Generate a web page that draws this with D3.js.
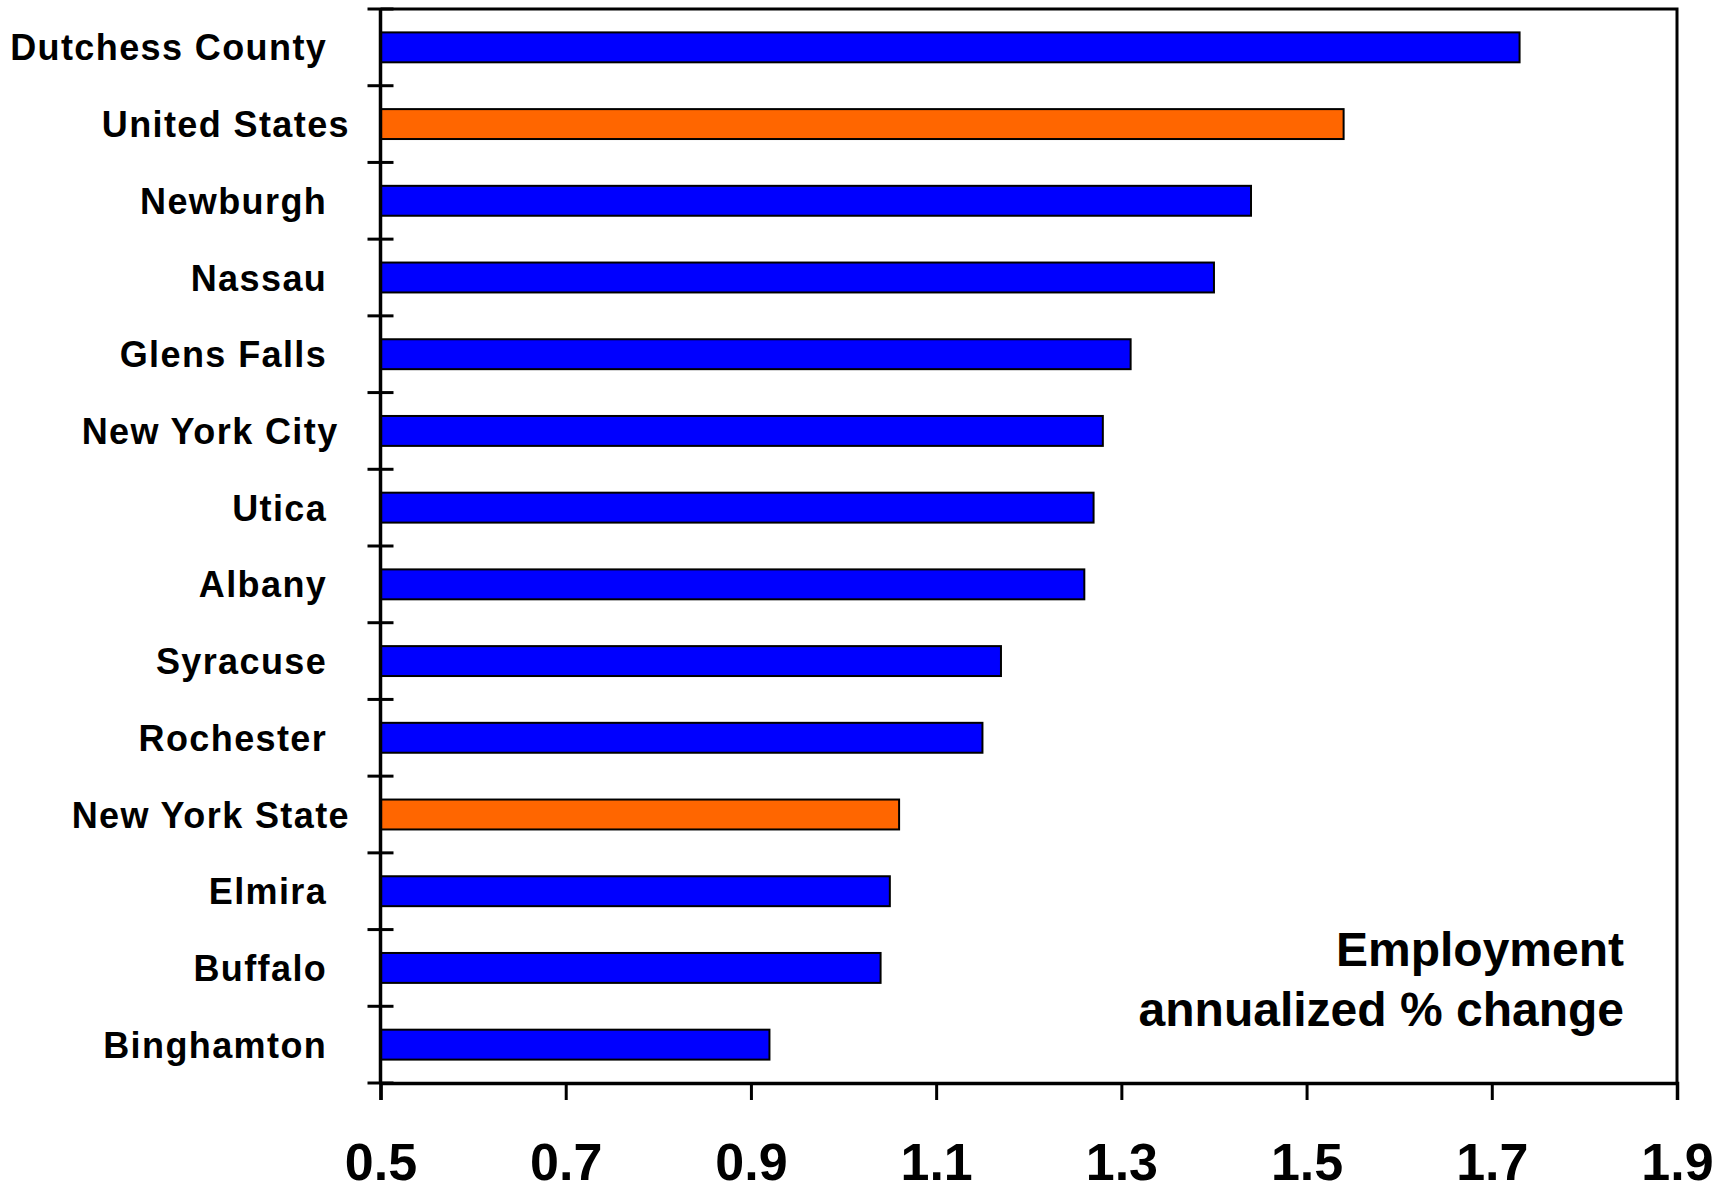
<!DOCTYPE html>
<html>
<head>
<meta charset="utf-8">
<script src="https://cdn.jsdelivr.net/npm/d3@7"></script>
<style>
  body { margin: 0; background: #fff; }
  svg { display: block; }
  text { font-family: "Liberation Sans", Arial, sans-serif; font-weight: bold; fill: #000; }
</style>
</head>
<body>
<div id="chart"></div>
<script>
// ---------------- data ----------------
const regions = [
  'Dutchess County', 'United States', 'Newburgh', 'Nassau', 'Glens Falls',
  'New York City', 'Utica', 'Albany', 'Syracuse', 'Rochester',
  'New York State', 'Elmira', 'Buffalo', 'Binghamton'
];
// trailing spaces as they appear in the original labels
const labelText = [
  'Dutchess County  ', 'United States', 'Newburgh  ', 'Nassau  ', 'Glens Falls  ',
  'New York City ', 'Utica  ', 'Albany  ', 'Syracuse  ', 'Rochester  ',
  'New York State', 'Elmira  ', 'Buffalo  ', 'Binghamton  '
];
const growth = [1.73, 1.54, 1.44, 1.40, 1.31, 1.28, 1.27, 1.26, 1.17, 1.15, 1.06, 1.05, 1.04, 0.92];
const benchmarks = ['United States', 'New York State'];
const xTicks = [0.5, 0.7, 0.9, 1.1, 1.3, 1.5, 1.7, 1.9];
const note = ['Employment', 'annualized % change'];

// ---------------- layout ----------------
const W = 1728, H = 1185;
const m = { left: 380.5, right: 1677, top: 9, bottom: 1083 };

const svg = d3.select('#chart').append('svg')
  .attr('width', W).attr('height', H);

const x = d3.scaleLinear().domain([0.5, 1.9]).range([m.left, m.right]);
const y = d3.scaleBand().domain(regions).range([m.top, m.bottom])
  .paddingInner(0.61).paddingOuter(0.305);
const band = d3.scaleBand().domain(regions).range([m.top, m.bottom]);

// bars
svg.append('g').selectAll('rect')
  .data(regions)
  .enter().append('rect')
  .attr('x', x(0.5))
  .attr('y', d => y(d))
  .attr('width', (d, i) => x(growth[i]) - x(0.5))
  .attr('height', y.bandwidth())
  .attr('fill', d => benchmarks.includes(d) ? '#ff6600' : '#0000ff')
  .attr('stroke', '#000')
  .attr('stroke-width', 2);

// frame (top + right)
svg.append('path')
  .attr('d', `M${m.left},${m.top}H${m.right}V${m.bottom}`)
  .attr('fill', 'none').attr('stroke', '#000').attr('stroke-width', 3);

// y axis: ticks on band boundaries crossing the axis line
const yBounds = regions.map(d => band(d)).concat([m.bottom]);
svg.append('g').selectAll('line')
  .data(yBounds)
  .enter().append('line')
  .attr('x1', m.left - 13).attr('x2', m.left + 13)
  .attr('y1', d => d).attr('y2', d => d)
  .attr('stroke', '#000').attr('stroke-width', 3);
svg.append('line')
  .attr('x1', m.left).attr('x2', m.left).attr('y1', m.top).attr('y2', m.bottom)
  .attr('stroke', '#000').attr('stroke-width', 3.5);

svg.append('g').selectAll('text')
  .data(regions)
  .enter().append('text')
  .attr('x', 350)
  .attr('y', d => band(d) + band.bandwidth() / 2 + 13)
  .attr('text-anchor', 'end')
  .style('white-space', 'pre')
  .style('font-size', '36px')
  .style('letter-spacing', '1.4px')
  .text((d, i) => labelText[i]);

// x axis
const xAxis = d3.axisBottom(x).tickValues(xTicks)
  .tickSize(17).tickPadding(0).tickFormat(d3.format('.1f'));
const gx = svg.append('g').attr('transform', `translate(0,${m.bottom})`).call(xAxis);
gx.select('.domain').attr('stroke', '#000').attr('stroke-width', 3.5);
gx.selectAll('.tick line').attr('stroke', '#000').attr('stroke-width', 3);
gx.selectAll('.tick text')
  .attr('y', 97).attr('dy', null)
  .style('font-size', '52px')
  .style('font-family', '"Liberation Sans", Arial, sans-serif')
  .style('font-weight', 'bold');

// note
svg.append('g').selectAll('text')
  .data(note)
  .enter().append('text')
  .attr('x', 1624)
  .attr('y', (d, i) => 966 + i * 60)
  .attr('text-anchor', 'end')
  .style('font-size', '48px')
  .text(d => d);
</script>
</body>
</html>
